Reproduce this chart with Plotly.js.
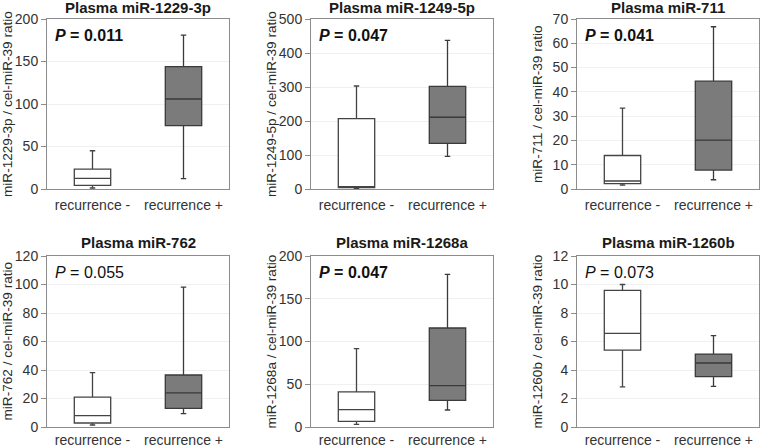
<!DOCTYPE html>
<html>
<head>
<meta charset="utf-8">
<script src="https://cdn.plot.ly/plotly-3.0.1.min.js"></script>
<style>
  html, body { margin: 0; padding: 0; background: #fff; }
  #chart { width: 760px; height: 446px; }
</style>
</head>
<body>
<div id="chart"></div>
<script>
// categories and labels
const categories = ['recurrence -', 'recurrence +'];
const titles = ['Plasma miR-1229-3p', 'Plasma miR-1249-5p', 'Plasma miR-711',
                'Plasma miR-762', 'Plasma miR-1268a', 'Plasma miR-1260b'];
const yTitles = ['miR-1229-3p / cel-miR-39 ratio', 'miR-1249-5p / cel-miR-39 ratio',
                 'miR-711 / cel-miR-39 ratio', 'miR-762 / cel-miR-39 ratio',
                 'miR-1268a / cel-miR-39 ratio', 'miR-1260b / cel-miR-39 ratio'];
const pValues = ['0.011', '0.047', '0.041', '0.055', '0.047', '0.073'];
const pSignificant = [true, true, true, false, true, false];
const yMax = [200, 500, 70, 120, 200, 12];
const yStep = [50, 100, 10, 20, 50, 2];

// box statistics, recurrence -
const negLower  = [1.2, 2, 1.6, 1.4, 3.1, 2.81];
const negQ1     = [4.2, 4, 2.2, 2.8, 6.6, 5.4];
const negMedian = [12.5, 7, 3.3, 8, 20.3, 6.57];
const negQ3     = [23.5, 207, 13.8, 21, 41, 9.59];
const negUpper  = [45, 303, 33.3, 38.1, 91.6, 10.0];

// box statistics, recurrence +
const posLower  = [12.1, 96, 3.8, 9.4, 19.9, 2.85];
const posQ1     = [74.5, 134, 7.8, 13.1, 31.2, 3.53];
const posMedian = [105.9, 211, 20.1, 23.9, 48.3, 4.49];
const posQ3     = [144, 302, 44.4, 36.5, 115.8, 5.12];
const posUpper  = [181, 437, 66.8, 98.2, 178.6, 6.41];

const W = 760, H = 446;
const FONT = '"Liberation Sans", Arial, sans-serif';
// plot areas in pixels [left, right] / [top, bottom]
const cols = [[47, 229], [311, 493], [577, 759]];
const rows = [[19, 189], [256, 427]];

const data = [];
const layout = {
  width: W, height: H,
  margin: {l: 0, r: 0, t: 0, b: 0},
  paper_bgcolor: '#ffffff',
  plot_bgcolor: '#ffffff',
  showlegend: false,
  boxmode: 'overlay',
  font: {family: FONT, color: '#333', size: 14},
  annotations: []
};

for (let i = 0; i < 6; i += 1) {
  const col = cols[i % 3];
  const rowIdx = Math.floor(i / 3);
  const row = rows[rowIdx];
  const n = i === 0 ? '' : String(i + 1);
  const xa = 'x' + n, ya = 'y' + n;

  const common = {
    type: 'box',
    xaxis: xa, yaxis: ya,
    width: 0.4,
    whiskerwidth: 0.15,
    hoverinfo: 'skip'
  };
  data.push(Object.assign({}, common, {
    x: [categories[0]],
    lowerfence: [negLower[i]], q1: [negQ1[i]], median: [negMedian[i]],
    q3: [negQ3[i]], upperfence: [negUpper[i]],
    fillcolor: '#ffffff',
    line: {color: '#444', width: 1.3}
  }));
  data.push(Object.assign({}, common, {
    x: [categories[1]],
    lowerfence: [posLower[i]], q1: [posQ1[i]], median: [posMedian[i]],
    q3: [posQ3[i]], upperfence: [posUpper[i]],
    fillcolor: '#7b7b7b',
    line: {color: '#3a3a3a', width: 1.3}
  }));

  layout['xaxis' + n] = {
    domain: [col[0] / W, col[1] / W],
    anchor: ya,
    type: 'category',
    categoryarray: categories,
    range: [-0.5, 1.5],
    showline: true, mirror: true, linecolor: '#8c8c8c', linewidth: 1,
    showgrid: false, ticks: '', zeroline: false,
    tickfont: {family: FONT, size: 14, color: '#333'},
    ticklabelstandoff: rowIdx === 0 ? 3 : 0,
    fixedrange: true
  };
  layout['yaxis' + n] = {
    domain: [1 - row[1] / H, 1 - row[0] / H],
    anchor: xa,
    range: [0, yMax[i]],
    dtick: yStep[i],
    tick0: 0,
    showline: true, mirror: true, linecolor: '#8c8c8c', linewidth: 1,
    ticks: 'outside', ticklen: 5, tickcolor: '#8c8c8c',
    showgrid: true, gridcolor: '#f0f0f0',
    zeroline: false,
    tickfont: {family: FONT, size: 14, color: '#333'},
    fixedrange: true
  };

  // subplot title
  layout.annotations.push({
    xref: 'paper', yref: 'paper',
    x: (col[0] + col[1]) / 2 / W, y: 1 - (row[0] - (rowIdx === 0 ? 12 : 14)) / H,
    xanchor: 'center', yanchor: 'middle',
    text: '<b>' + titles[i] + '</b>',
    showarrow: false,
    font: {family: FONT, size: 15, color: '#1a1a1a'}
  });
  // y axis title
  layout.annotations.push({
    xref: 'paper', yref: 'paper',
    x: (col[0] - 40) / W, y: 1 - (row[0] + row[1]) / 2 / H,
    xanchor: 'center', yanchor: 'middle',
    textangle: -90,
    text: yTitles[i],
    showarrow: false,
    font: {family: FONT, size: 13.6, color: '#2a2a2a'}
  });
  // P value
  const pText = '<i>P</i> = ' + pValues[i];
  layout.annotations.push({
    xref: 'paper', yref: 'paper',
    x: (col[0] + 6) / W, y: 1 - (row[0] + 16) / H,
    xanchor: 'left', yanchor: 'middle',
    text: pSignificant[i] ? '<b>' + pText + '</b>' : pText,
    showarrow: false,
    font: {family: FONT, size: 16, color: '#111'}
  });
}

Plotly.newPlot('chart', data, layout, {displayModeBar: false, staticPlot: true});
</script>
</body>
</html>
